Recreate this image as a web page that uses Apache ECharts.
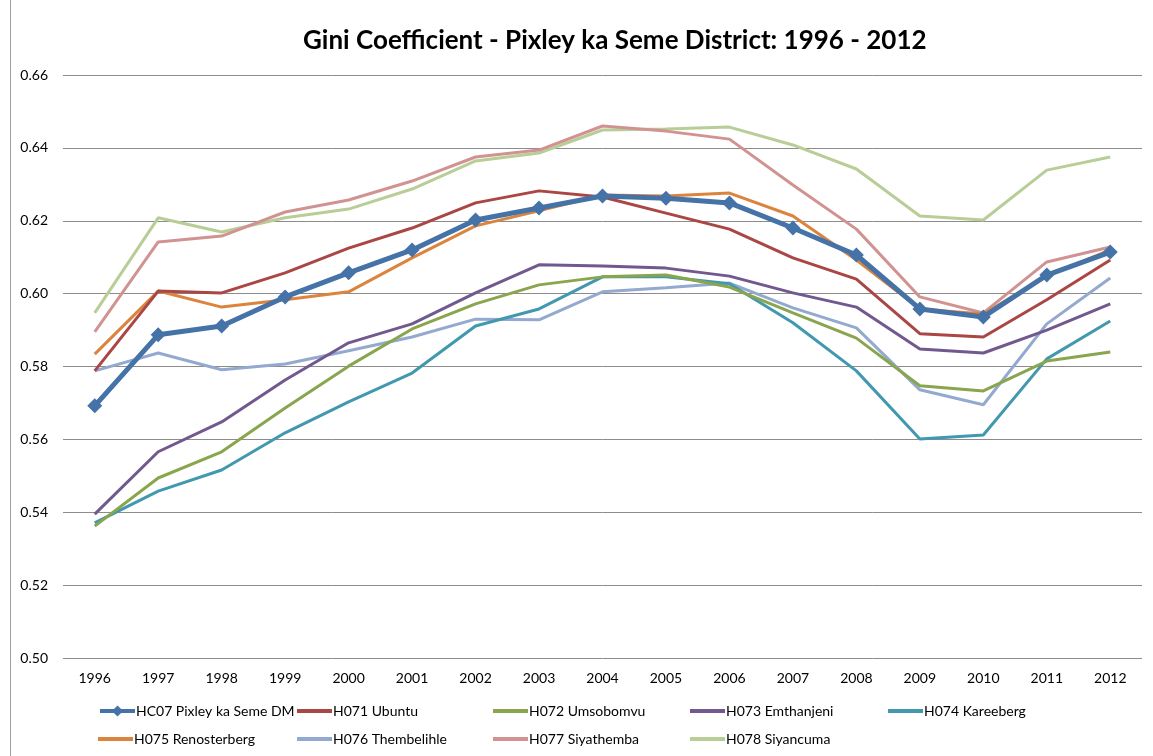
<!DOCTYPE html>
<html>
<head>
<meta charset="utf-8">
<script src="https://cdn.jsdelivr.net/npm/echarts@6/dist/echarts.min.js"></script>
<style>
html,body{margin:0;padding:0;background:#fff;}
#chart{width:1153px;height:756px;}
</style>
</head>
<body>
<div id="chart"></div>
<script>
const years = ['1996','1997','1998','1999','2000','2001','2002','2003','2004','2005','2006','2007','2008','2009','2010','2011','2012'];
const yTicks = [0.50,0.52,0.54,0.56,0.58,0.60,0.62,0.64,0.66];

const HC07 = [0.5692,0.5887,0.5911,0.5991,0.6057,0.6120,0.6202,0.6235,0.6268,0.6262,0.6249,0.6180,0.6106,0.5958,0.5936,0.6051,0.6114];
const H071 = [0.5788,0.6007,0.6002,0.6057,0.6125,0.6180,0.6249,0.6282,0.6265,0.6221,0.6177,0.6098,0.6040,0.5890,0.5881,0.5983,0.6092];
const H072 = [0.5362,0.5494,0.5566,0.5686,0.5801,0.5903,0.5972,0.6024,0.6046,0.6051,0.6018,0.5947,0.5878,0.5747,0.5733,0.5815,0.5840];
const H073 = [0.5395,0.5566,0.5648,0.5763,0.5865,0.5917,0.6002,0.6079,0.6076,0.6070,0.6048,0.6002,0.5963,0.5848,0.5837,0.5900,0.5972];
const H074 = [0.5371,0.5458,0.5516,0.5618,0.5703,0.5782,0.5911,0.5958,0.6046,0.6046,0.6027,0.5920,0.5788,0.5601,0.5612,0.5821,0.5925];
const H075 = [0.5834,0.6007,0.5963,0.5983,0.6005,0.6098,0.6186,0.6227,0.6271,0.6268,0.6276,0.6213,0.6092,0.5958,0.5944,0.6048,0.6120];
const H076 = [0.5788,0.5837,0.5791,0.5807,0.5843,0.5881,0.5930,0.5928,0.6005,0.6016,0.6029,0.5961,0.5906,0.5736,0.5695,0.5917,0.6043];
const H077 = [0.5895,0.6142,0.6158,0.6224,0.6257,0.6309,0.6375,0.6394,0.6460,0.6446,0.6424,0.6298,0.6177,0.5991,0.5947,0.6087,0.6128];
const H078 = [0.5947,0.6208,0.6169,0.6208,0.6232,0.6287,0.6364,0.6386,0.6449,0.6452,0.6457,0.6408,0.6342,0.6213,0.6202,0.6339,0.6375];

const seriesNames = ['HC07 Pixley ka Seme DM','H071 Ubuntu','H072 Umsobomvu','H073 Emthanjeni','H074 Kareeberg','H075 Renosterberg','H076 Thembelihle','H077 Siyathemba','H078 Siyancuma'];
const seriesData = [HC07,H071,H072,H073,H074,H075,H076,H077,H078];
const colors = ['#4572A7','#AA4643','#89A54E','#71588F','#4198AF','#DB843D','#93A9CF','#D19392','#B9CD96'];

const FONT = 'Lato, "Open Sans", sans-serif';

const series = seriesNames.map((n,i)=>({
  name:n,
  type:'line',
  data:seriesData[i],
  color:colors[i],
  lineStyle:{width:i===0?5:3,color:colors[i]},
  symbol:i===0?'diamond':'none',
  symbolSize:i===0?15:0,
  showSymbol:i===0,
  itemStyle:{color:colors[i]},
  z:i===0?10:(9-i),
  animation:false
}));

const legendPos = [[98,711],[297,711],[493,711],[690,711],[888,711],[98,739],[297,739],[493,739],[690,739]];
const legends = seriesNames.map((n,i)=>{
  const first = i===0;
  return {
    data:[first?{name:n}:{name:n,icon:'rect'}],
    left:legendPos[i][0],
    top:legendPos[i][1]-7,
    padding:0,
    itemWidth:35,
    itemHeight:first?14:4,
    itemGap:0,
    lineStyle:{width:4},
    textStyle:{fontFamily:FONT,fontSize:14,color:'#000',padding:[0,0,0,-4]},
    selectedMode:false
  };
});

const chart = echarts.init(document.getElementById('chart'),null,{renderer:'canvas'});
chart.setOption({
  backgroundColor:'#fff',
  animation:false,
  title:{
    text:'Gini Coefficient - Pixley ka Seme District: 1996 - 2012',
    left:303,
    top:28,
    padding:0,
    textStyle:{fontFamily:FONT,fontSize:26,fontWeight:'bold',color:'#000'}
  },
  legend:legends,
  grid:{left:63,right:11,top:75,bottom:98,containLabel:false},
  xAxis:{
    type:'category',
    data:years,
    boundaryGap:true,
    axisLine:{show:false},
    axisTick:{show:false},
    axisLabel:{fontFamily:FONT,fontSize:14,color:'#000',margin:13}
  },
  yAxis:{
    type:'value',
    min:yTicks[0],
    max:yTicks[yTicks.length-1],
    interval:0.02,
    axisLine:{show:false},
    axisTick:{show:false},
    splitLine:{lineStyle:{color:'#8c8c8c',width:1}},
    axisLabel:{fontFamily:FONT,fontSize:14,color:'#000',margin:15,formatter:v=>v.toFixed(2)}
  },
  graphic:[{type:'line',shape:{x1:10.5,y1:0,x2:10.5,y2:756},style:{stroke:'#a0a0a0',lineWidth:1}}],
  series:series
});
</script>
</body>
</html>
